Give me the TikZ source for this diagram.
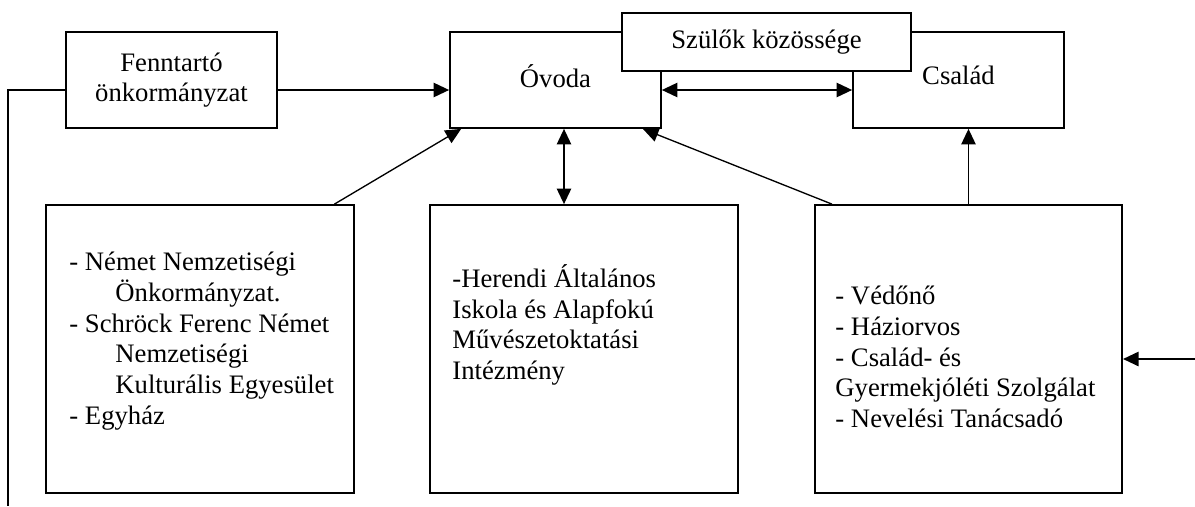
\documentclass[tikz,border=0pt]{standalone}
\usepackage{fontspec}
\setmainfont{Liberation Serif}
\usepackage{tikz}
\usetikzlibrary{positioning,arrows.meta,calc}

\begin{document}
\begin{tikzpicture}[x=0.45pt, y=-0.45pt,
    box/.style={draw, line width=0.8pt, fill=white, inner sep=0pt, align=center,
      font=\fontsize{12pt}{13.8pt}\selectfont},
    topbox/.style={box, minimum width=94.95pt, minimum height=43.2pt},
    bigbox/.style={box, minimum width=138.3pt, minimum height=129.6pt},
    listtext/.style={inner sep=0pt, align=left, anchor=north west,
      font=\fontsize{12pt}{13.8pt}\selectfont},
    arr/.style={line width=0.6pt, -{Triangle[length=7pt,width=6.5pt]}},
    darr/.style={line width=0.6pt, {Triangle[length=7pt,width=6.5pt]}-{Triangle[length=7pt,width=6.5pt]}},
    conn/.style={line width=0.6pt}]
    \useasboundingbox (0,0) rectangle (1195,506);
    % upper row
    \node[topbox] (fenn) at (171.5,80) {Fenntartó\\önkormányzat};
    \node[topbox, text depth=4pt] (ovoda) at (555.5,80) {Óvoda};
    \node[topbox, text depth=4pt] (csalad) at (958.5,80) {Család};
    \node[box, minimum width=130pt, minimum height=26.1pt] (szulok) at (766.5,42) {Szülők közössége};
    % lower row
    \node[bigbox] (nemet) at (200,349) {};
    \node[bigbox] (herendi) at (584,349) {};
    \node[bigbox] (vedo) at (968.5,349) {};
    \node[listtext] (nemettext) at (69,252) {- Német Nemzetiségi\\
      \hspace*{20.7pt}Önkormányzat.\\
      - Schröck Ferenc Német\\
      \hspace*{20.7pt}Nemzetiségi\\
      \hspace*{20.7pt}Kulturális Egyesület\\
      - Egyház};
    \node[listtext] (herenditext) at (452,264) {-Herendi Általános\\
      Iskola és Alapfokú\\
      Művészetoktatási\\
      Intézmény};
    \node[listtext] (vedotext) at (835,286) {- Védőnő\\
      - Háziorvos\\
      - Család- és\\
      Gyermekjóléti Szolgálat\\
      - Nevelési Tanácsadó};
    % connectors
    \coordinate (lvl) at (0,90);
    \coordinate (hx) at (564,0);
    \coordinate (leftend) at (8,506);
    \coordinate (rightin) at (1195,359);
    \draw[arr] (fenn.east |- lvl) -- (ovoda.west |- lvl);
    \draw[conn] (fenn.west |- lvl) -| (leftend);
    \draw[darr] (ovoda.east |- lvl) -- (csalad.west |- lvl);
    \draw[darr] (ovoda.south -| hx) -- (herendi.north -| hx);
    \draw[arr] ($(nemet.north west)+(289,0)$) -- ($(ovoda.south west)+(12,0)$);
    \draw[arr] ($(vedo.north west)+(18,0)$) -- ($(ovoda.south east)+(-19,0)$);
    \draw[arr] (vedo.north) -- (csalad.south -| vedo.north);
    \draw[arr] (rightin) -- (vedo.east |- rightin);
  \end{tikzpicture}
\end{document}
